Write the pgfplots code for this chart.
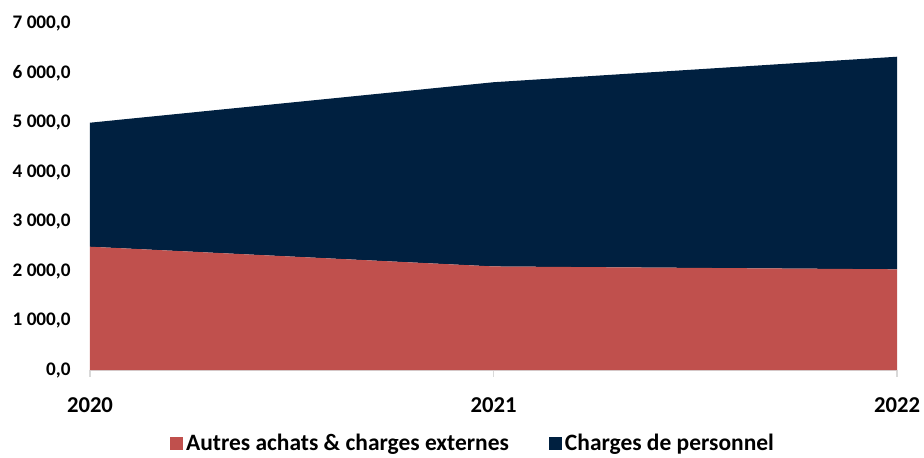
\documentclass[border=0pt]{standalone}
\usepackage{fontspec}
\setmainfont{Carlito}
\usepackage{pgfplots}
\pgfplotsset{compat=1.18}

\definecolor{chred}{HTML}{C0504D}
\definecolor{chnavy}{HTML}{002040}
\definecolor{axgray}{HTML}{D9D9D9}

\begin{document}
\begin{tikzpicture}[x=0.75pt,y=0.75pt]
% 1px = 0.75pt, axis origin at pixel (90,370) of the 924x457 reference
\path[use as bounding box] (-90,-87) rectangle (834,370);
\begin{axis}[
    scale only axis,
    width=605.25pt, height=259.5pt,
    at={(0,0)}, anchor=origin,
    xmin=2020, xmax=2022,
    ymin=0, ymax=7000,
    xtick={2020,2021,2022},
    ytick={0,1000,...,7000},
    x tick label style={font=\bfseries\fontsize{17}{17}\selectfont, /pgf/number format/1000 sep={}, yshift=-12pt},
    y tick label style={font=\bfseries\fontsize{14.4}{14.4}\selectfont, xshift=-6pt},
    yticklabel={\pgfmathprintnumber[fixed, fixed zerofill, precision=1, use comma, 1000 sep={\ }]{\tick}},
    /pgf/number format/assume math mode=true,
    stack plots=y,
    axis x line*=bottom,
    axis y line*=left,
    y axis line style={draw=none},
    x axis line style={draw=axgray, line width=1pt},
    ytick style={draw=none},
    xtick style={draw=axgray, line width=1pt},
    tick align=outside,
    major tick length=5pt,
    legend style={at={(0.475,-0.212)}, anchor=center, draw=none,
        legend columns=2, font=\bfseries\fontsize{17.6}{17.6}\selectfont,
        /tikz/every even column/.append style={column sep=28pt}},
    legend image code/.code={\fill[#1] (-3pt,-5pt) rectangle (7pt,5pt);},
]
\addplot[fill=chred, draw=none] coordinates {
    (2020, 2494) (2021, 2095) (2022, 2037)
} \closedcycle;
\addlegendentry{Autres achats \& charges externes}

\addplot[fill=chnavy, draw=none] coordinates {
    (2020, 2509) (2021, 3727) (2022, 4301)
} \closedcycle;
\addlegendentry{Charges de personnel}
\end{axis}
\end{tikzpicture}
\end{document}
